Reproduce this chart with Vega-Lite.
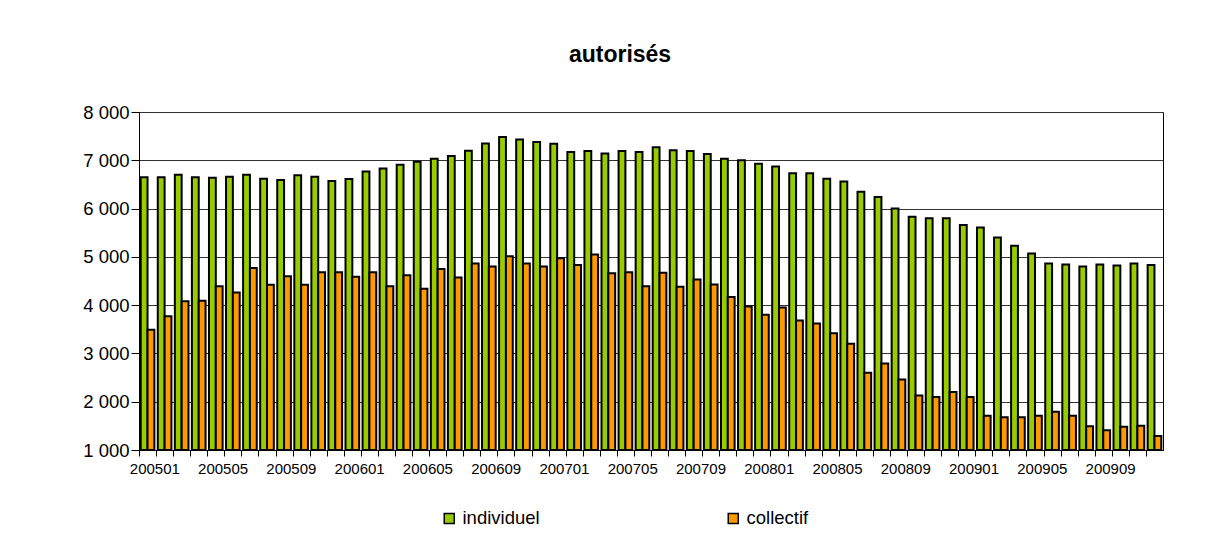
{
  "$schema": "https://vega.github.io/schema/vega-lite/v6.json",
  "autosize": "none",
  "padding": {"left": 139, "top": 112, "right": 55, "bottom": 99},
  "width": 1024,
  "height": 338,
  "background": "white",
  "title": {
    "text": "autorisés",
    "font": "Liberation Sans",
    "fontSize": 23,
    "fontWeight": "bold",
    "color": "black",
    "anchor": "middle",
    "frame": "group",
    "dx": -31,
    "offset": 36
  },
  "config": {
    "font": "Liberation Sans",
    "view": {"stroke": "black", "strokeWidth": 1}
  },
  "data": {
    "values": [
      {"mois": "200501", "type": "individuel", "valeur": 6650}, {"mois": "200501", "type": "collectif", "valeur": 3490},
      {"mois": "200502", "type": "individuel", "valeur": 6650}, {"mois": "200502", "type": "collectif", "valeur": 3770},
      {"mois": "200503", "type": "individuel", "valeur": 6700}, {"mois": "200503", "type": "collectif", "valeur": 4080},
      {"mois": "200504", "type": "individuel", "valeur": 6650}, {"mois": "200504", "type": "collectif", "valeur": 4090},
      {"mois": "200505", "type": "individuel", "valeur": 6640}, {"mois": "200505", "type": "collectif", "valeur": 4390},
      {"mois": "200506", "type": "individuel", "valeur": 6660}, {"mois": "200506", "type": "collectif", "valeur": 4260},
      {"mois": "200507", "type": "individuel", "valeur": 6700}, {"mois": "200507", "type": "collectif", "valeur": 4770},
      {"mois": "200508", "type": "individuel", "valeur": 6620}, {"mois": "200508", "type": "collectif", "valeur": 4420},
      {"mois": "200509", "type": "individuel", "valeur": 6590}, {"mois": "200509", "type": "collectif", "valeur": 4600},
      {"mois": "200510", "type": "individuel", "valeur": 6690}, {"mois": "200510", "type": "collectif", "valeur": 4420},
      {"mois": "200511", "type": "individuel", "valeur": 6660}, {"mois": "200511", "type": "collectif", "valeur": 4680},
      {"mois": "200512", "type": "individuel", "valeur": 6570}, {"mois": "200512", "type": "collectif", "valeur": 4680},
      {"mois": "200601", "type": "individuel", "valeur": 6610}, {"mois": "200601", "type": "collectif", "valeur": 4590},
      {"mois": "200602", "type": "individuel", "valeur": 6770}, {"mois": "200602", "type": "collectif", "valeur": 4680},
      {"mois": "200603", "type": "individuel", "valeur": 6830}, {"mois": "200603", "type": "collectif", "valeur": 4390},
      {"mois": "200604", "type": "individuel", "valeur": 6910}, {"mois": "200604", "type": "collectif", "valeur": 4620},
      {"mois": "200605", "type": "individuel", "valeur": 6970}, {"mois": "200605", "type": "collectif", "valeur": 4340},
      {"mois": "200606", "type": "individuel", "valeur": 7030}, {"mois": "200606", "type": "collectif", "valeur": 4750},
      {"mois": "200607", "type": "individuel", "valeur": 7090}, {"mois": "200607", "type": "collectif", "valeur": 4570},
      {"mois": "200608", "type": "individuel", "valeur": 7200}, {"mois": "200608", "type": "collectif", "valeur": 4860},
      {"mois": "200609", "type": "individuel", "valeur": 7350}, {"mois": "200609", "type": "collectif", "valeur": 4800},
      {"mois": "200610", "type": "individuel", "valeur": 7480}, {"mois": "200610", "type": "collectif", "valeur": 5010},
      {"mois": "200611", "type": "individuel", "valeur": 7430}, {"mois": "200611", "type": "collectif", "valeur": 4860},
      {"mois": "200612", "type": "individuel", "valeur": 7380}, {"mois": "200612", "type": "collectif", "valeur": 4800},
      {"mois": "200701", "type": "individuel", "valeur": 7340}, {"mois": "200701", "type": "collectif", "valeur": 4970},
      {"mois": "200702", "type": "individuel", "valeur": 7170}, {"mois": "200702", "type": "collectif", "valeur": 4830},
      {"mois": "200703", "type": "individuel", "valeur": 7190}, {"mois": "200703", "type": "collectif", "valeur": 5050},
      {"mois": "200704", "type": "individuel", "valeur": 7140}, {"mois": "200704", "type": "collectif", "valeur": 4660},
      {"mois": "200705", "type": "individuel", "valeur": 7190}, {"mois": "200705", "type": "collectif", "valeur": 4680},
      {"mois": "200706", "type": "individuel", "valeur": 7170}, {"mois": "200706", "type": "collectif", "valeur": 4390},
      {"mois": "200707", "type": "individuel", "valeur": 7270}, {"mois": "200707", "type": "collectif", "valeur": 4670},
      {"mois": "200708", "type": "individuel", "valeur": 7210}, {"mois": "200708", "type": "collectif", "valeur": 4380},
      {"mois": "200709", "type": "individuel", "valeur": 7190}, {"mois": "200709", "type": "collectif", "valeur": 4530},
      {"mois": "200710", "type": "individuel", "valeur": 7130}, {"mois": "200710", "type": "collectif", "valeur": 4430},
      {"mois": "200711", "type": "individuel", "valeur": 7030}, {"mois": "200711", "type": "collectif", "valeur": 4170},
      {"mois": "200712", "type": "individuel", "valeur": 7000}, {"mois": "200712", "type": "collectif", "valeur": 3970},
      {"mois": "200801", "type": "individuel", "valeur": 6930}, {"mois": "200801", "type": "collectif", "valeur": 3800},
      {"mois": "200802", "type": "individuel", "valeur": 6870}, {"mois": "200802", "type": "collectif", "valeur": 3950},
      {"mois": "200803", "type": "individuel", "valeur": 6730}, {"mois": "200803", "type": "collectif", "valeur": 3680},
      {"mois": "200804", "type": "individuel", "valeur": 6730}, {"mois": "200804", "type": "collectif", "valeur": 3620},
      {"mois": "200805", "type": "individuel", "valeur": 6620}, {"mois": "200805", "type": "collectif", "valeur": 3420},
      {"mois": "200806", "type": "individuel", "valeur": 6560}, {"mois": "200806", "type": "collectif", "valeur": 3200},
      {"mois": "200807", "type": "individuel", "valeur": 6350}, {"mois": "200807", "type": "collectif", "valeur": 2600},
      {"mois": "200808", "type": "individuel", "valeur": 6240}, {"mois": "200808", "type": "collectif", "valeur": 2790},
      {"mois": "200809", "type": "individuel", "valeur": 6000}, {"mois": "200809", "type": "collectif", "valeur": 2460},
      {"mois": "200810", "type": "individuel", "valeur": 5830}, {"mois": "200810", "type": "collectif", "valeur": 2130},
      {"mois": "200811", "type": "individuel", "valeur": 5800}, {"mois": "200811", "type": "collectif", "valeur": 2100},
      {"mois": "200812", "type": "individuel", "valeur": 5800}, {"mois": "200812", "type": "collectif", "valeur": 2200},
      {"mois": "200901", "type": "individuel", "valeur": 5660}, {"mois": "200901", "type": "collectif", "valeur": 2100},
      {"mois": "200902", "type": "individuel", "valeur": 5610}, {"mois": "200902", "type": "collectif", "valeur": 1710},
      {"mois": "200903", "type": "individuel", "valeur": 5400}, {"mois": "200903", "type": "collectif", "valeur": 1680},
      {"mois": "200904", "type": "individuel", "valeur": 5230}, {"mois": "200904", "type": "collectif", "valeur": 1680},
      {"mois": "200905", "type": "individuel", "valeur": 5070}, {"mois": "200905", "type": "collectif", "valeur": 1710},
      {"mois": "200906", "type": "individuel", "valeur": 4860}, {"mois": "200906", "type": "collectif", "valeur": 1790},
      {"mois": "200907", "type": "individuel", "valeur": 4840}, {"mois": "200907", "type": "collectif", "valeur": 1710},
      {"mois": "200908", "type": "individuel", "valeur": 4800}, {"mois": "200908", "type": "collectif", "valeur": 1490},
      {"mois": "200909", "type": "individuel", "valeur": 4840}, {"mois": "200909", "type": "collectif", "valeur": 1410},
      {"mois": "200910", "type": "individuel", "valeur": 4820}, {"mois": "200910", "type": "collectif", "valeur": 1480},
      {"mois": "200911", "type": "individuel", "valeur": 4860}, {"mois": "200911", "type": "collectif", "valeur": 1500},
      {"mois": "200912", "type": "individuel", "valeur": 4830}, {"mois": "200912", "type": "collectif", "valeur": 1290}
    ]
  },
  "mark": {"type": "bar", "stroke": "black", "strokeWidth": 2},
  "encoding": {
    "x": {
      "field": "mois",
      "type": "ordinal",
      "sort": null,
      "scale": {"paddingInner": 0.2, "paddingOuter": 0.1},
      "axis": {
        "title": null,
        "labelAngle": 0,
        "labelFontSize": 15,
        "labelColor": "black",
        "labelFont": "Liberation Sans",
        "labelOverlap": false,
        "labelExpr": "indexof(['01','05','09'], substring(datum.value, 4, 6)) >= 0 ? datum.value : ''",
        "bandPosition": 0,
        "tickOffset": -1.7,
        "labelOffset": 8.5,
        "tickSize": 6,
        "tickColor": "black",
        "domainColor": "black",
        "labelPadding": 5,
        "grid": false
      }
    },
    "xOffset": {
      "field": "type",
      "type": "nominal",
      "sort": ["individuel", "collectif"],
      "scale": {"paddingInner": 0, "paddingOuter": 0}
    },
    "y": {
      "field": "valeur",
      "type": "quantitative",
      "scale": {"domain": [1000, 8000], "zero": false, "nice": false},
      "axis": {
        "title": null,
        "values": [1000, 2000, 3000, 4000, 5000, 6000, 7000, 8000],
        "labelExpr": "replace(format(datum.value, ','), ',', ' ')",
        "labelFontSize": 18.5,
        "labelColor": "black",
        "labelFont": "Liberation Sans",
        "tickSize": 8,
        "tickColor": "black",
        "domainColor": "black",
        "labelPadding": 2,
        "grid": true,
        "gridColor": "#333333",
        "gridWidth": 1
      }
    },
    "y2": {"datum": 1000},
    "color": {
      "field": "type",
      "type": "nominal",
      "sort": ["individuel", "collectif"],
      "scale": {"domain": ["individuel", "collectif"], "range": ["#99CC00", "#FF9900"]},
      "legend": {
        "title": null,
        "orient": "none",
        "direction": "horizontal",
        "legendX": 301,
        "legendY": 397,
        "symbolType": "square",
        "symbolSize": 100,
        "symbolStrokeColor": "black",
        "symbolStrokeWidth": 1.5,
        "labelFontSize": 18.5,
        "labelFont": "Liberation Sans",
        "labelColor": "black",
        "labelOffset": 4,
        "columnPadding": 184
      }
    }
  }
}
